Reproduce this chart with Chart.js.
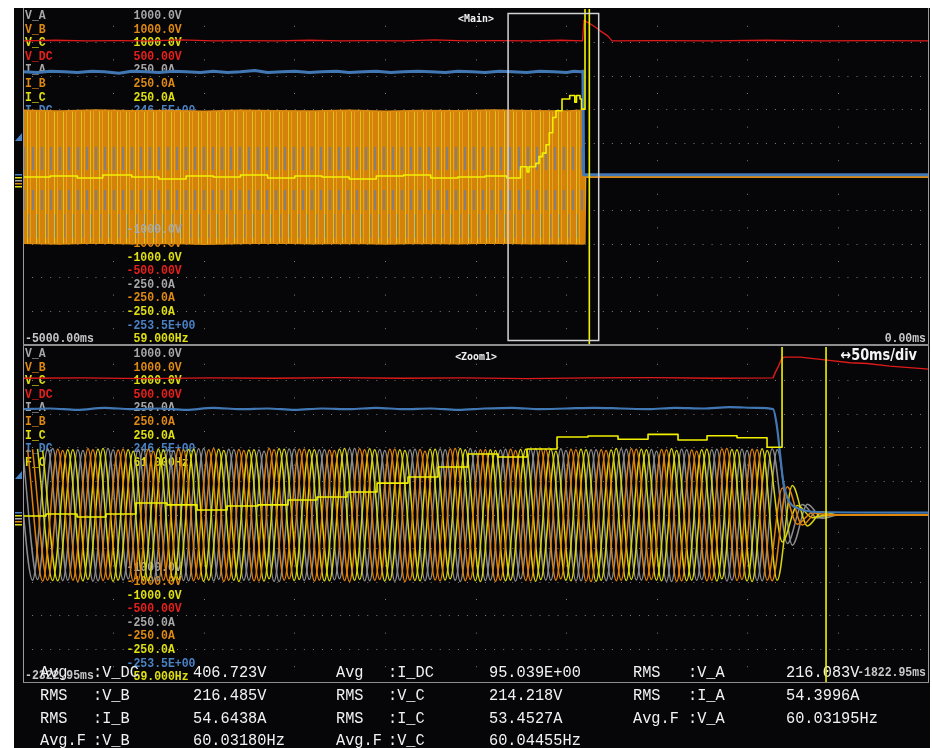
<!DOCTYPE html>
<html>
<head>
<meta charset="utf-8">
<script src="https://cdn.jsdelivr.net/npm/chart.js@4.4.0/dist/chart.umd.min.js"></script>
<style>
  html, body { margin: 0; padding: 0; background: #fff; }
  #screen { position: absolute; left: 14px; top: 8px; width: 916px; height: 740px; background: #060609; }
  canvas { position: absolute; left: 14px; }
  #mainChart { top: 8px; }
  #zoomChart { top: 346px; }
  .rule { position: absolute; background: #8e8e8e; }
</style>
</head>
<body>
<div id="screen"></div>
<canvas id="mainChart" width="916" height="338"></canvas>
<canvas id="zoomChart" width="916" height="402"></canvas>
<div class="rule" style="left:23px;top:8px;width:1px;height:675px;background:#9c9c9c"></div>
<div class="rule" style="left:928px;top:8px;width:1px;height:675px;background:#9c9c9c"></div>
<div class="rule" style="left:23px;top:344px;width:906px;height:2px"></div>
<div class="rule" style="left:23px;top:682px;width:906px;height:1px"></div>
<script>
// scope channels, in screen order
const channelNames = ['V_A', 'V_B', 'V_C', 'V_DC', 'I_A', 'I_B', 'I_C', 'I_DC', 'F_C'];
const channelColors = ['#a8a8a8', '#e08a12', '#e0e010', '#e8201c', '#a8a8a8', '#e08a12', '#e0e010', '#4a82c4', '#e0e010'];
const scaleTopLabels = ['1000.0V', '1000.0V', '1000.0V', '500.00V', '250.0A', '250.0A', '250.0A', '246.5E+00', '61.000Hz'];
const scaleBottomLabels = ['-1000.0V', '-1000.0V', '-1000.0V', '-500.00V', '-250.0A', '-250.0A', '-250.0A', '-253.5E+00', '59.000Hz'];
const scaleTop = [1000, 1000, 1000, 500, 250, 250, 250, 246.5, 61];
const scaleBottom = [-1000, -1000, -1000, -500, -250, -250, -250, -253.5, 59];

const mainRange = [-5000, 0];          // ms
const zoomRange = [-2322.95, -1822.95]; // ms
const halfPeriod = 8.33;               // ms between wave peaks

// ---- Main window ----
const mainFreqT = [-5000, -4850, -4700, -4560, -4400, -4250, -4100, -3950, -3800, -3650, -3500, -3350, -3200, -3050, -2900, -2750, -2600, -2450, -2330,
  -2254.3, -2218.4, -2207.4, -2170.4, -2152.2, -2132.9, -2113.6, -2095.4, -2076.6, -2058.4, -2025.3, -1982.8, -1954.7, -1945.3, -1926.0, -1917.7, -1898.4, -1874.6, 0];
const mainFreq = [60.000, 60.006, 59.994, 60.012, 60.000, 59.988, 60.006, 60.000, 60.012, 59.994, 60.006, 60.000, 59.988, 60.006, 60.012, 59.994, 60.000, 60.006, 59.994,
  60.061, 60.030, 60.061, 60.081, 60.121, 60.142, 60.192, 60.263, 60.354, 60.394, 60.464, 60.485, 60.445, 60.485, 60.464, 60.404, 62, 58, 58];

const mainVdcT = [-5000, -4820, -4650, -4480, -4300, -4130, -3950, -3780, -3600, -3420, -3250, -3080, -2900, -2730, -2560, -2380, -2200, -2030, -1912, -1904,
  -1852, -1814, -1773, -1749, -1500, -1200, -900, -600, -300, 0];
const mainVdc = [405, 407, 405, 406, 405, 408, 405, 406, 405, 407, 405, 406, 405, 408, 405, 406, 405, 407, 405, 466,
  450, 435, 420, 405, 406, 405, 407, 405, 406, 405];

const mainIdcT = [-5000, -4920, -4850, -4770, -4700, -4620, -4550, -4470, -4400, -4320, -4250, -4170, -4100, -4020, -3950, -3870, -3800, -3720, -3650, -3570,
  -3500, -3420, -3350, -3270, -3200, -3120, -3050, -2970, -2900, -2820, -2750, -2670, -2600, -2520, -2450, -2370, -2300, -2220, -2150, -2070,
  -2000, -1960, -1920, -1910, -1906, 0];
const mainIdc = [153, 152, 154, 153, 152, 154, 153, 151, 154, 153, 152, 154, 153, 152, 154, 152, 153, 155, 152, 153,
  154, 152, 153, 154, 152, 153, 154, 152, 153, 154, 153, 152, 154, 153, 152, 154, 153, 152, 154, 153,
  152, 154, 153, 154, 0, 0];

// compressed display of the phase voltages: peak envelope
const mainEnvT = [-5000, -4800, -4600, -4400, -4200, -4000, -3800, -3600, -3400, -3200, -3000, -2800, -2600, -2400, -2200, -2000, -1912, -1906, -1900, -1896, 0];
const mainEnvMax = [396, 392, 398, 393, 395, 390, 397, 394, 392, 396, 391, 395, 393, 398, 394, 392, 396, 0, 0, 0, 0];
const mainEnvMin = [-394, -398, -392, -396, -393, -399, -395, -392, -397, -394, -398, -393, -396, -392, -397, -395, -398, -396, -394, 0, 0];

// ---- Zoom1 window ----
const zoomFreqT = [-2322.95, -2310.26, -2293.15, -2277.14, -2260.58, -2243.48, -2226.92, -2210.36, -2193.26, -2176.70, -2160.69, -2144.13, -2127.57, -2110.47,
  -2093.91, -2077.35, -2060.80, -2044.79, -2028.23, -2011.12, -1994.57, -1978.01, -1961.45, -1945.45, -1928.89, -1912.33, -1904.05, -1879.77, -1822.95];
const zoomFreq = [59.994, 60.006, 59.988, 60.006, 60.071, 60.060, 60.030, 60.054, 60.060, 60.089, 60.107, 60.137, 60.190, 60.226,
  60.286, 60.363, 60.345, 60.393, 60.464, 60.470, 60.451, 60.480, 60.446, 60.472, 60.460, 60.403, 62, 58, 58];

const zoomVdcT = [-2322.95, -2290, -2255, -2220, -2185, -2150, -2115, -2080, -2045, -2010, -1975, -1940,
  -1909.0, -1907.9, -1906.3, -1904.1, -1902.4, -1894.1, -1879.2, -1866.5, -1857.1, -1844.6, -1822.95];
const zoomVdc = [407, 408, 406, 408, 407, 409, 407, 408, 406, 408, 409, 407,
  408, 423, 440, 467, 470, 470, 461, 453, 451, 443, 434];

const zoomIdcT = [-2322.95, -2308, -2293, -2278, -2263, -2248, -2233, -2218, -2203, -2188, -2173, -2158, -2143, -2128, -2113, -2098, -2083, -2068,
  -2053, -2038, -2023, -2008, -1993, -1978, -1963, -1948, -1933, -1918,
  -1909.0, -1906.8, -1905.2, -1903.5, -1901.3, -1898.5, -1895.8, -1890.2, -1884.7, -1822.95];
const zoomIdc = [154, 155, 153, 156, 154, 155, 153, 156, 154, 155, 153, 155, 154, 156, 154, 155, 153, 155,
  156, 154, 155, 156, 155, 154, 156, 155, 157, 156,
  154, 127, 89, 48, 23, 11, 7, 2.4, 1, 0];

// first peak time of each phase trace in Zoom1 (ms)
const waveStart = { V_A: -2326.0, V_B: -2320.4, V_C: -2314.9, I_A: -2323.2, I_B: -2317.7, I_C: -2312.1 };
// successive peak values (alternating +/-), V and A
const waveVA = [392, -388, 395, -391, 389, -394, 396, -387, 390, -393,
  388, -390, 394, -392, 391, -389, 387, -395, 393, -390,
  389, -386, 395, -392, 390, -394, 388, -391, 393, -389,
  396, -390, 387, -393, 391, -388, 394, -392, 389, -391,
  395, -387, 390, -394, 392, -389, 388, -393, 391, -390,
  394, -170, 62, -18, 0, 0, 0, 0, 0, 0, 0, 0];
const waveIA = [97, -96, 99, -97, 96, -98, 97, -95, 98, -97,
  96, -98, 99, -96, 97, -97, 95, -99, 98, -96,
  97, -95, 99, -98, 96, -97, 98, -96, 97, -99,
  96, -97, 98, -95, 99, -97, 96, -98, 97, -96,
  98, -97, 95, -99, 97, -96, 98, -97, 96, -98,
  97, -45, 16, -5, 0, 0, 0, 0, 0, 0, 0, 0];
const waveVB = [389, -393, 391, -388, 395, -390, 387, -394, 392, -389,
  394, -391, 388, -395, 390, -392, 396, -388, 391, -393,
  387, -390, 394, -389, 392, -396, 390, -387, 393, -391,
  389, -394, 391, -390, 395, -388, 392, -393, 388, -391,
  394, -389, 390, -395, 387, -392, 393, -390, 391, -388,
  160, -55, 15, 0, 0, 0, 0, 0, 0, 0, 0, 0];
const waveIB = [98, -97, 96, -99, 97, -96, 98, -97, 95, -98,
  97, -96, 99, -97, 96, -98, 97, -95, 98, -97,
  96, -99, 97, -96, 98, -97, 95, -98, 99, -96,
  97, -97, 96, -98, 98, -95, 97, -99, 96, -97,
  98, -96, 97, -98, 95, -97, 99, -96, 97, -98,
  42, -15, 5, 0, 0, 0, 0, 0, 0, 0, 0, 0];
const waveVC = [394, -390, 388, -392, 391, -395, 389, -388, 393, -391,
  390, -394, 392, -389, 387, -393, 395, -390, 388, -392,
  391, -389, 394, -393, 389, -390, 392, -387, 396, -391,
  388, -392, 390, -394, 393, -389, 391, -395, 387, -390,
  392, -388, 394, -391, 389, -393, 390, -392, 395, -389,
  175, -65, 20, 0, 0, 0, 0, 0, 0, 0, 0, 0];
const waveIC = [96, -98, 97, -96, 99, -97, 95, -98, 97, -96,
  98, -97, 96, -99, 97, -95, 98, -96, 97, -98,
  99, -96, 97, -97, 96, -98, 98, -95, 97, -99,
  96, -97, 98, -96, 95, -98, 97, -97, 99, -96,
  97, -98, 96, -97, 98, -95, 97, -99, 96,
  -40, 14, -4, 0, 0, 0, 0, 0, 0, 0, 0, 0, 0];

// measurement table under the zoom window
const measRows = [
  ['Avg', ':V_DC', '406.723V', 'Avg', ':I_DC', '95.039E+00', 'RMS', ':V_A', '216.083V'],
  ['RMS', ':V_B', '216.485V', 'RMS', ':V_C', '214.218V', 'RMS', ':I_A', '54.3996A'],
  ['RMS', ':I_B', '54.6438A', 'RMS', ':I_C', '53.4527A', 'Avg.F', ':V_A', '60.03195Hz'],
  ['Avg.F', ':V_B', '60.03180Hz', 'Avg.F', ':V_C', '60.04455Hz']
];

const pts = (t, v) => t.map((x, i) => ({ x: x, y: v[i] }));
const wavePts = (start, v) => v.map((y, i) => ({ x: start + i * halfPeriod, y: y }));

const smallFont = 'bold 13.5px "Liberation Mono"';
function label(ctx, s, x, y, color, font, sx, align) {
  ctx.save();
  ctx.font = font;
  ctx.fillStyle = color;
  ctx.textAlign = align || 'left';
  ctx.textBaseline = 'middle';
  ctx.translate(x, y);
  ctx.scale(sx, 1);
  ctx.fillText(s, 0, 0);
  ctx.restore();
}
function bottomLabel(ctx, a, k) {
  const s = scaleBottomLabels[k];
  const dx = s.startsWith('-') ? 6.9 : 0;
  label(ctx, s, a.left + 110.5 - dx, a.top + 221 + 13.6 * k, channelColors[k], smallFont, 0.85);
}
function channelLabels(ctx, a) {
  channelNames.forEach((n, k) => {
    const y = a.top + 6.5 + 13.6 * k;
    label(ctx, n, a.left + 2, y, channelColors[k], smallFont, 0.85);
    label(ctx, scaleTopLabels[k], a.left + 110.5, y, channelColors[k], smallFont, 0.85);
    bottomLabel(ctx, a, k);
  });
}
function levelMarks(ctx, a) {
  ctx.save();
  ctx.fillStyle = '#4a82c4';
  ctx.beginPath();
  ctx.moveTo(a.left - 8, a.top + 132);
  ctx.lineTo(a.left - 1, a.top + 132);
  ctx.lineTo(a.left - 1, a.top + 124);
  ctx.closePath();
  ctx.fill();
  [['#4a82c4', 165], ['#e0e010', 168], ['#a8a8a8', 171], ['#e08a12', 174], ['#e0e010', 177]].forEach(([c, y]) => {
    ctx.fillStyle = c;
    ctx.fillRect(a.left - 8, a.top + y, 7, 1.5);
  });
  ctx.restore();
}

// hidden per-channel axes, plus two grid-only axes in divisions
function scopeScales(range) {
  const gridColor = (c) => (c.index === 0 || c.index === 10) ? 'rgba(0,0,0,0)' : '#7c7c7c';
  return {
    x: { type: 'linear', min: range[0], max: range[1], display: false },
    gx: { type: 'linear', axis: 'x', position: 'bottom', min: 0, max: 10,
      ticks: { display: false, stepSize: 1 },
      grid: { color: gridColor, drawTicks: false, lineWidth: 1 },
      border: { display: false, dash: [1, 32.6], dashOffset: 16.8 } },
    gy: { type: 'linear', axis: 'y', position: 'left', min: -5, max: 5,
      ticks: { display: false, stepSize: 1 },
      grid: { color: gridColor, drawTicks: false, lineWidth: 1 },
      border: { display: false, dash: [1, 8.06] } },
    yV: { display: false, min: scaleBottom[0], max: scaleTop[0] },
    yDC: { display: false, min: scaleBottom[3], max: scaleTop[3] },
    yI: { display: false, min: scaleBottom[4], max: scaleTop[4] },
    yIdc: { display: false, min: scaleBottom[7], max: scaleTop[7] },
    yF: { display: false, min: scaleBottom[8], max: scaleTop[8] }
  };
}
const baseOptions = (range, bottomPad) => ({
  responsive: false,
  animation: false,
  events: [],
  layout: { padding: { left: 9, right: 1, top: 1, bottom: bottomPad } },
  plugins: { legend: { display: false }, tooltip: { enabled: false } },
  elements: { point: { radius: 0 }, line: { borderJoinStyle: 'round' } },
  scales: scopeScales(range)
});

// band texture for the compressed main display
function bandPattern(ctx) {
  const c = document.createElement('canvas');
  c.width = 9; c.height = 338;
  const g = c.getContext('2d');
  g.fillStyle = '#d4820c'; g.fillRect(0, 0, 9, 338);
  g.fillStyle = '#e6a414'; g.fillRect(7, 0, 1, 338);
  g.fillStyle = '#d9c61a'; g.fillRect(4, 0, 1, 338);
  g.fillStyle = '#86807a';
  g.fillRect(0, 139, 2, 23);
  g.fillRect(0, 182, 2, 20);
  g.fillRect(5, 206, 1, 24);
  return ctx.createPattern(c, 'repeat');
}

const mainCanvas = document.getElementById('mainChart');
const mainScreen = {
  id: 'mainScreen',
  beforeDatasetsDraw(chart) {
    const { ctx, chartArea: a } = chart;
    channelLabels(ctx, a);
    label(ctx, '<Main>', (a.left + a.right) / 2, a.top + 10, '#f0f0f0', 'bold 11px "DejaVu Sans Mono"', 0.9, 'center');
    label(ctx, '-5000.00ms', a.left + 2, a.top + 330, '#c8c8c8', smallFont, 0.85);
    label(ctx, '0.00ms', a.right - 3, a.top + 330, '#c8c8c8', smallFont, 0.85, 'right');
  },
  afterDatasetsDraw(chart) {
    const { ctx, chartArea: a, scales } = chart;
    bottomLabel(ctx, a, 0);
    const l = scales.x.getPixelForValue(zoomRange[0]);
    const r = scales.x.getPixelForValue(zoomRange[1]);
    ctx.save();
    ctx.strokeStyle = '#d2d2d2';
    ctx.lineWidth = 1.5;
    ctx.strokeRect(l, a.top + 4.5, r - l, a.bottom - a.top - 9);
    ctx.restore();
    levelMarks(ctx, a);
  }
};

new Chart(mainCanvas, {
  type: 'line',
  data: {
    datasets: [
      { label: 'F_C', data: pts(mainFreqT, mainFreq), yAxisID: 'yF', borderColor: '#f2f200', borderWidth: 1.6, stepped: 'before' },
      { label: 'V_DC', data: pts(mainVdcT, mainVdc), yAxisID: 'yDC', borderColor: '#e01a1a', borderWidth: 1.3 },
      { label: 'I_DC', data: pts(mainIdcT, mainIdc), yAxisID: 'yIdc', borderColor: '#4178b4', borderWidth: 3 },
      { label: 'V max', data: pts(mainEnvT, mainEnvMax), yAxisID: 'yV', borderColor: '#dc8a10', borderWidth: 1.8,
        fill: '+1', backgroundColor: bandPattern(mainCanvas.getContext('2d')) },
      { label: 'V min', data: pts(mainEnvT, mainEnvMin), yAxisID: 'yV', borderColor: '#dc8a10', borderWidth: 1.8 }
    ]
  },
  options: baseOptions(mainRange, 1),
  plugins: [mainScreen]
});

const zoomScreen = {
  id: 'zoomScreen',
  beforeDatasetsDraw(chart) {
    const { ctx, chartArea: a } = chart;
    channelLabels(ctx, a);
    label(ctx, '<Zoom1>', (a.left + a.right) / 2, a.top + 10, '#f0f0f0', 'bold 11px "DejaVu Sans Mono"', 0.9, 'center');
    label(ctx, '\u219450ms/div', a.right - 12, a.top + 9, '#f4f4f4', 'bold 15px "DejaVu Sans"', 0.86, 'right');
    label(ctx, '-2322.95ms', a.left + 2, a.top + 329, '#c8c8c8', smallFont, 0.85);
    label(ctx, '-1822.95ms', a.right - 3, a.top + 326, '#c8c8c8', smallFont, 0.85, 'right');
    const colX = [40, 93, 193, 336, 388, 489, 633, 688, 786];
    const rowY = [672, 695, 718, 740];
    measRows.forEach((row, r) => row.forEach((s, c) => {
      label(ctx, s, colX[c] - 14, rowY[r] - 346, '#f2f2f2', '17px "Liberation Mono"', 0.9);
    }));
  },
  afterDatasetsDraw(chart) {
    levelMarks(chart.ctx, chart.chartArea);
  }
};

const wave = (name, values, color, w) => ({
  label: name, data: wavePts(waveStart[name], values), yAxisID: name.startsWith('V') ? 'yV' : 'yI',
  borderColor: color, borderWidth: w, cubicInterpolationMode: 'monotone'
});

new Chart(document.getElementById('zoomChart'), {
  type: 'line',
  data: {
    datasets: [
      { label: 'F_C', data: pts(zoomFreqT, zoomFreq), yAxisID: 'yF', borderColor: '#f2f200', borderWidth: 1.6, stepped: 'before' },
      { label: 'V_DC', data: pts(zoomVdcT, zoomVdc), yAxisID: 'yDC', borderColor: '#e01a1a', borderWidth: 1.4 },
      { label: 'I_DC', data: pts(zoomIdcT, zoomIdc), yAxisID: 'yIdc', borderColor: '#4178b4', borderWidth: 2.2, cubicInterpolationMode: 'monotone' },
      wave('I_B', waveIB, '#e0820a', 1.5),
      wave('V_B', waveVB, '#e0820a', 1.5),
      wave('V_C', waveVC, '#d8d40e', 1.5),
      wave('I_C', waveIC, '#d8d40e', 1.5),
      wave('V_A', waveVA, '#8c8c8c', 1.5),
      wave('I_A', waveIA, '#8c8c8c', 1.5)
    ]
  },
  options: baseOptions(zoomRange, 65),
  plugins: [zoomScreen]
});
</script>
</body>
</html>
